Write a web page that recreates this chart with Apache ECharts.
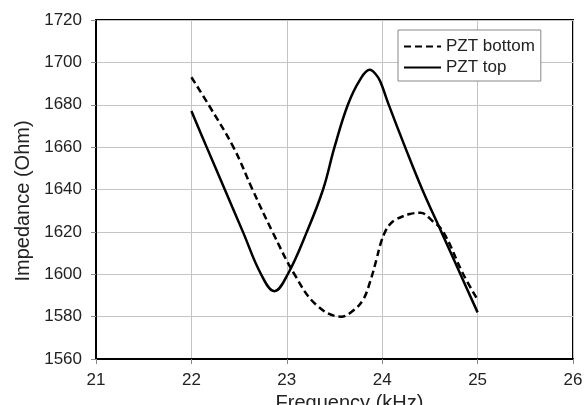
<!DOCTYPE html>
<html>
<head>
<meta charset="utf-8">
<script src="https://cdn.jsdelivr.net/npm/echarts@6/dist/echarts.min.js"></script>
<style>
  html, body { margin: 0; padding: 0; background: #fff; }
  #chart { width: 584px; height: 405px; }
</style>
</head>
<body>
<div id="chart"></div>
<script>
// impedance sweep, values
const seriesNames = ["PZT bottom", "PZT top"];

const bottomFreq = [22.0, 22.18, 22.44, 22.64, 22.85, 23.08, 23.31, 23.57, 23.7, 23.8, 23.87, 23.94, 23.98, 24.03, 24.08, 24.15, 24.29, 24.4, 24.53, 24.64, 24.85, 25.0];
const bottomImp  = [1693, 1680, 1660, 1640, 1620, 1600, 1585.5, 1580, 1583, 1588, 1596, 1607, 1614, 1620, 1623.5, 1626, 1628.4, 1629, 1625, 1620, 1600, 1588];

const topFreq = [22.0, 22.16, 22.35, 22.54, 22.73, 22.87, 23.01, 23.21, 23.38, 23.5, 23.64, 23.77, 23.87, 23.93, 23.98, 24.06, 24.24, 24.42, 24.62, 24.82, 25.0];
const topImp  = [1677, 1660, 1640, 1620, 1600, 1592, 1600, 1620, 1640, 1660, 1680, 1692, 1696.5, 1694.5, 1691, 1681, 1660, 1640, 1620, 1600, 1582];

const xTicks = [21, 22, 23, 24, 25, 26];
const yTicks = [1560, 1580, 1600, 1620, 1640, 1660, 1680, 1700, 1720];

const zip = (xs, ys) => xs.map((x, i) => [x, ys[i]]);

const chart = echarts.init(document.getElementById("chart"));
const font = "Liberation Sans, Arial, sans-serif";

chart.setOption({
  animation: false,
  textStyle: { fontFamily: font },
  grid: {
    left: 96, right: 11, top: 20, bottom: 46,
    outerBoundsMode: "none",
    show: true, borderColor: "#000", borderWidth: 2
  },
  legend: {
    orient: "vertical",
    left: 398, top: 30,
    padding: [8, 6, 5, 5],
    itemGap: 4,
    itemWidth: 37, itemHeight: 14,
    borderColor: "#888", borderWidth: 1,
    backgroundColor: "#fff",
    itemStyle: { color: "rgba(0,0,0,0)", borderWidth: 0, opacity: 0 },
    textStyle: { fontSize: 17, color: "#222", fontFamily: font },
    data: seriesNames
  },
  xAxis: {
    type: "value",
    min: xTicks[0], max: xTicks[xTicks.length - 1], interval: 1,
    name: "Frequency (kHz)",
    nameLocation: "middle", nameGap: 29,
    nameTextStyle: { fontSize: 20, color: "#222", padding: [0, 0, 0, 30] },
    axisLine: { lineStyle: { color: "#000", width: 2 } },
    axisTick: { show: true, length: 5, lineStyle: { color: "#888" } },
    axisLabel: { fontSize: 17, color: "#222", margin: 13, formatter: (v) => String(v) },
    splitLine: { lineStyle: { color: "#c4c4c4", width: 1 } }
  },
  yAxis: {
    type: "value",
    min: yTicks[0], max: yTicks[yTicks.length - 1], interval: 20,
    name: "Impedance (Ohm)",
    nameLocation: "middle", nameGap: 63,
    nameTextStyle: { fontSize: 20, color: "#222", padding: [0, 23, 0, 0] },
    axisLine: { lineStyle: { color: "#000", width: 2 } },
    axisTick: { show: true, length: 5, lineStyle: { color: "#888" } },
    axisLabel: { fontSize: 17, color: "#222", margin: 14, formatter: (v) => String(v) },
    splitLine: { lineStyle: { color: "#c4c4c4", width: 1 } }
  },
  series: [
    {
      name: seriesNames[0], type: "line", smooth: 0.4, symbol: "none",
      data: zip(bottomFreq, bottomImp),
      lineStyle: { color: "#000", width: 2.5, type: [7, 4] },
      itemStyle: { color: "#000" }
    },
    {
      name: seriesNames[1], type: "line", smooth: 0.4, symbol: "none",
      data: zip(topFreq, topImp),
      lineStyle: { color: "#000", width: 2.5 },
      itemStyle: { color: "#000" }
    }
  ]
});
</script>
</body>
</html>
